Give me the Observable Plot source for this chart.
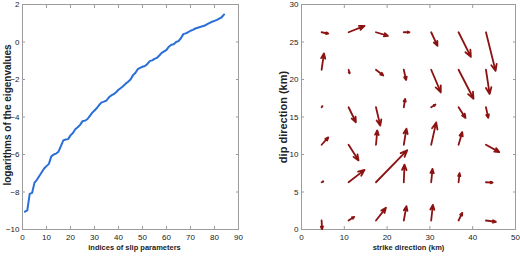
<!DOCTYPE html>
<html><head><meta charset="utf-8">
<script src="https://cdn.jsdelivr.net/npm/d3@7"></script>
<script src="https://cdn.jsdelivr.net/npm/@observablehq/plot@0.6"></script>
<style>
body{margin:0;background:#fff;}
#wrap{display:flex;width:520px;height:258px;overflow:hidden;}
svg{display:block;}
</style></head><body><div id="wrap"></div>
<script>
// ---- Left panel data: logarithms of eigenvalues by index (1..84)
const logEigenvalues = [
  -9.05, -8.98, -8.1, -8.05, -7.5, -7.35, -7.15, -6.95, -6.75, -6.62,
  -6.5, -6.1, -6.0, -5.95, -5.85, -5.55, -5.25, -5.2, -5.18, -4.98,
  -4.85, -4.65, -4.55, -4.42, -4.22, -4.2, -4.12, -3.95, -3.78, -3.65,
  -3.52, -3.35, -3.22, -3.18, -3.12, -2.95, -2.85, -2.78, -2.68, -2.55,
  -2.45, -2.35, -2.22, -2.12, -2.0, -1.78, -1.65, -1.45, -1.38, -1.32,
  -1.28, -1.18, -1.02, -0.98, -0.9, -0.85, -0.72, -0.58, -0.5, -0.42,
  -0.25, -0.15, -0.12, 0.0, 0.05, 0.2, 0.42, 0.46, 0.52, 0.6,
  0.65, 0.72, 0.76, 0.8, 0.84, 0.88, 0.95, 1.02, 1.08, 1.13,
  1.18, 1.25, 1.32, 1.47
];
const leftXTicks = [0, 10, 20, 30, 40, 50, 60, 70, 80, 90];
const leftYTicks = [-10, -8, -6, -4, -2, 0, 2];
const leftXLabel = "indices of slip parameters";
const leftYLabel = "logarithms of the eigenvalues";

// ---- Right panel data: slip vectors on fault patches
const strikePos = [4.7, 11.0, 17.4, 23.9, 30.3, 36.7, 43.1];
const dipPos = [1.2, 6.3, 11.3, 16.3, 21.3, 26.3];
// strike-slip components (rows bottom -> top, columns left -> right)
const slipU = [
  [0.1, 1.32, 2.33, 0.62, 0.39, 0.86, 2.33],
  [0.4, 3.73, 7.31, 0.16, 0.31, 0.23, 1.56],
  [1.56, 2.33, 0.31, 0.62, 1.17, 0.86, 3.11],
  [0.2, 1.71, 1.01, 0.31, 1.0, 1.63, 0.54],
  [0.54, 0.23, 1.71, 0.54, 2.25, 3.5, 0.86],
  [1.55, 3.73, 2.8, 1.32, 1.48, 2.88, 2.25]
];
// dip-slip components
const slipV = [
  [-1.16, 0.49, 1.69, 1.91, 2.09, 1.02, -0.18],
  [0.1, 1.65, 4.27, 2.36, 1.78, 1.2, -0.04],
  [0.98, -2.09, 1.91, 2.14, 2.98, 1.69, -0.98],
  [0.15, -2.0, -2.45, 1.11, 0.36, -1.42, -1.42],
  [2.18, -0.49, -0.76, -1.38, -3.03, -3.87, -3.25],
  [-0.18, 0.85, -0.49, 0.0, -1.82, -3.29, -5.16]
];
const rightXTicks = [0, 10, 20, 30, 40, 50];
const rightYTicks = [0, 5, 10, 15, 20, 25, 30];
const rightXLabel = "strike direction (km)";
const rightYLabel = "dip direction (km)";

// ---- build tables
const eig = logEigenvalues.map((v, i) => ({index: i + 1, value: v}));
const quiver = [];
dipPos.forEach((y, r) => strikePos.forEach((x, c) => {
  quiver.push({x, y, u: slipU[r][c], v: slipV[r][c]});
}));

const FONT = "'Liberation Sans', Arial, sans-serif";
const FRAME = "#9c9c9c";

function boxAxes(xTicks, yTicks) {
  return [
    Plot.axisX(xTicks, {anchor: "bottom", tickSize: -3, tickPadding: 8, stroke: FRAME, fill: "#222", fontSize: 8, label: null}),
    Plot.axisX(xTicks, {anchor: "top", tickSize: -3, stroke: FRAME, tickFormat: () => "", label: null}),
    Plot.axisY(yTicks, {anchor: "left", tickSize: -3, tickPadding: 6, stroke: FRAME, fill: "#222", fontSize: 8, label: null}),
    Plot.axisY(yTicks, {anchor: "right", tickSize: -3, stroke: FRAME, tickFormat: () => "", label: null}),
    Plot.frame({stroke: FRAME})
  ];
}

const left = Plot.plot({
  width: 260, height: 258,
  marginLeft: 22, marginRight: 22, marginTop: 4, marginBottom: 29,
  style: {fontFamily: FONT, background: "#fff"},
  x: {domain: [0, 90]},
  y: {domain: [-10, 2]},
  marks: [
    ...boxAxes(leftXTicks, leftYTicks),
    Plot.line(eig, {x: "index", y: "value", stroke: "#2a6fd8", strokeWidth: 2}),
    Plot.text([leftXLabel], {frameAnchor: "bottom", textAnchor: "middle", dy: 20, dx: 4, fontSize: 7.5, fontWeight: "bold", fill: "#222"}),
    Plot.text([leftYLabel], {frameAnchor: "left", textAnchor: "middle", dx: -15, dy: -2, rotate: -90, fontSize: 10, fontWeight: "bold", fill: "#222"})
  ]
});

const right = Plot.plot({
  width: 260, height: 258,
  marginLeft: 41, marginRight: 5, marginTop: 4, marginBottom: 29,
  style: {fontFamily: FONT, background: "#fff"},
  x: {domain: [0, 50]},
  y: {domain: [0, 30]},
  marks: [
    ...boxAxes(rightXTicks, rightYTicks),
    Plot.arrow(quiver, {
      x1: "x", y1: "y",
      x2: d => d.x + d.u, y2: d => d.y + d.v,
      stroke: "#8c1212", strokeWidth: 1.8, headLength: 6, headAngle: 45
    }),
    Plot.text([rightXLabel], {frameAnchor: "bottom", textAnchor: "middle", dy: 20, fontSize: 7.5, fontWeight: "bold", fill: "#222"}),
    Plot.text([rightYLabel], {frameAnchor: "left", textAnchor: "middle", dx: -18, rotate: -90, fontSize: 11, fontWeight: "bold", fill: "#222"})
  ]
});

document.getElementById("wrap").append(left, right);
</script>
</body></html>
